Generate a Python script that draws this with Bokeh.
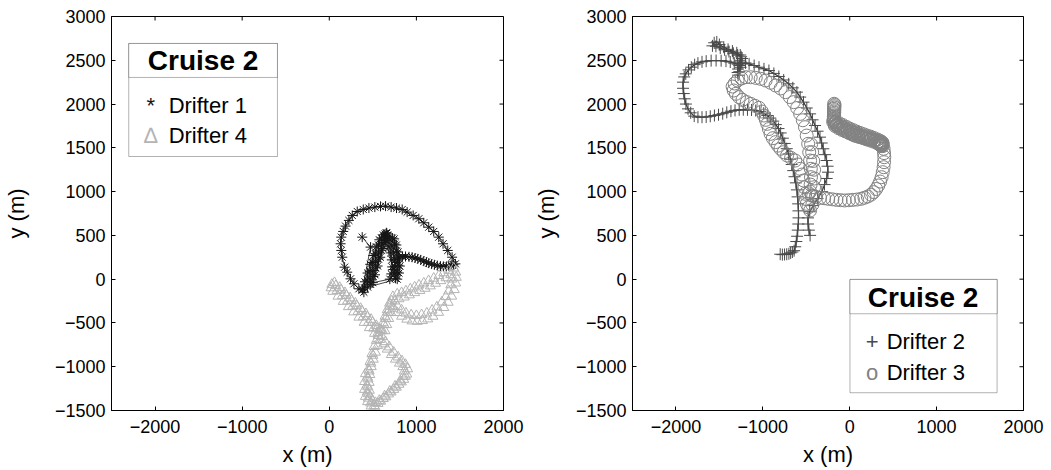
from bokeh.plotting import figure
from bokeh.models import FixedTicker, Label, BoxAnnotation, Range1d
from bokeh.layouts import row
from bokeh.embed import file_html
from bokeh.resources import INLINE

# ---------------- data (metres) ----------------
X_MIN, X_MAX = -2500, 2000
Y_MIN, Y_MAX = -1500, 3000
X_TICKS = [-2000, -1000, 0, 1000, 2000]
X_TICK_LABELS = ["\u22122000", "\u22121000", "0", "1000", "2000"]
Y_TICKS = [-1500, -1000, -500, 0, 500, 1000, 1500, 2000, 2500, 3000]
Y_TICK_LABELS = ["\u22121500", "\u22121000", "\u2212500", "0", "500", "1000", "1500", "2000", "2500", "3000"]

LEGEND_TITLE = "Cruise 2"
NAMES_LEFT = ["Drifter 1", "Drifter 4"]
NAMES_RIGHT = ["Drifter 2", "Drifter 3"]

# Drifter 1 (black asterisks)
D1 = [(378, 480), (474, 366),
      (380, -120), (410, -30), (440, 70), (470, 170), (505, 270), (540, 370), (575, 450), (620, 505),
      (655, 530),
      (745, 460), (770, 390), (790, 310), (805, 230), (810, 150), (800, 70), (780, 0),
      (405, -100), (435, -10), (465, 90), (495, 190), (530, 290), (565, 390), (600, 470), (640, 515),
      (660, 525),
      (725, 470), (750, 400), (770, 320), (785, 240), (790, 160), (780, 80), (760, 10),
      (745, 60), (755, 140), (752, 220), (738, 300), (718, 380), (695, 450), (670, 505),
      (635, 480), (600, 400), (565, 300), (530, 200), (500, 100), (470, 0), (440, -90),
      (475, -60), (505, 30), (535, 130), (565, 230), (600, 330), (630, 420), (655, 490),
      (665, 440), (685, 370), (705, 300), (718, 220), (722, 140), (712, 60), (695, 0),
      (500, -40), (525, 50), (555, 150), (585, 250), (615, 350), (645, 440),
      (735, 110), (765, 190), (798, 250), (840, 258), (875, 259), (915, 255), (951, 251), (985, 242),
      (1016, 232), (1050, 220), (1085, 206), (1115, 195), (1142, 183), (1175, 172), (1207, 164),
      (1240, 155), (1276, 149), (1310, 146), (1345, 145), (1372, 150), (1398, 156), (1425, 165), (1448, 175),
      (1410, 251), (1360, 328), (1306, 404), (1257, 480), (1199, 545), (1142, 594), (1085, 644), (1028, 690),
      (963, 728), (894, 766), (837, 796), (772, 812), (710, 823), (646, 834), (588, 831), (523, 823),
      (455, 812), (390, 796), (321, 773), (264, 728), (225, 671), (187, 606), (160, 545), (138, 480),
      (130, 404), (138, 328), (149, 251), (176, 137), (206, 80), (244, 4), (283, -53), (340, -110), (397, -149)]

# Drifter 4 (light grey triangles)
D4 = [(60, -40), (120, -95), (180, -155), (240, -215), (300, -275), (360, -335), (420, -395), (480, -460),
      (540, -530), (580, -575),
      (560, -640), (540, -700), (515, -770), (490, -850), (468, -940), (450, -1030), (438, -1120), (432, -1210),
      (435, -1290), (448, -1360), (475, -1415), (515, -1445), (560, -1420), (620, -1365), (680, -1312),
      (740, -1260), (800, -1202), (855, -1145), (890, -1085), (900, -1025), (875, -975), (835, -935),
      (790, -890), (740, -835), (690, -775), (645, -715), (605, -655),
      (610, -590), (630, -520), (650, -450), (672, -380), (695, -310), (715, -250), (730, -200),
      (780, -170), (830, -155), (880, -135), (930, -112), (980, -90), (1030, -68), (1085, -45), (1140, -18),
      (1199, 10), (1258, 40), (1314, 72), (1372, 100), (1429, 126),
      (1452, 80), (1458, 20), (1452, -45), (1435, -120), (1405, -195), (1365, -265), (1315, -325), (1255, -380),
      (1190, -425), (1130, -455), (1070, -474), (1010, -483), (950, -478), (890, -458), (830, -424),
      (780, -383), (732, -333), (692, -275),
      (665, -350), (640, -425), (615, -500), (590, -575), (565, -645),
      (520, -620), (460, -555), (400, -495), (340, -435), (280, -375), (220, -315), (160, -255), (100, -195),
      (40, -140), (20, -100),
      (90, -130), (150, -190), (210, -250), (270, -310), (330, -370), (390, -430), (450, -495), (510, -560),
      (560, -610),
      (580, -690), (555, -760), (530, -835), (505, -915), (482, -1000), (466, -1090), (458, -1180),
      (460, -1270), (470, -1340), (495, -1390), (530, -1410), (575, -1385), (635, -1335), (695, -1280),
      (755, -1222), (812, -1165), (850, -1110), (862, -1050), (845, -1000), (805, -960), (760, -915),
      (712, -862), (665, -800), (625, -740),
      (415, -1080), (405, -1170), (405, -1260), (415, -1340), (440, -1400), (480, -1450), (525, -1460),
      (640, -590), (660, -520), (682, -450), (705, -380), (728, -310), (752, -250),
      (800, -225), (860, -205), (920, -180), (980, -155), (1040, -130), (1100, -105), (1160, -78),
      (1220, -48), (1280, -18), (1340, 15), (1395, 50),
      (1405, 0), (1395, -65), (1372, -135), (1338, -200), (1292, -262), (1235, -318),
      (1180, -355), (1120, -388), (1060, -407), (1000, -417), (940, -408), (880, -388), (830, -352), (785, -312),
      (30, -60), (75, -75), (135, -125), (195, -185), (255, -245), (315, -305), (375, -365), (435, -430),
      (495, -495), (545, -560),
      (500, -870), (478, -960), (458, -1050), (445, -1140), (442, -1230), (450, -1310), (590, -1395),
      (650, -1345), (710, -1290), (770, -1235), (828, -1175), (875, -1110)]

# Drifter 2 (dark grey crosses)
D2 = [(-800, 285), (-775, 280), (-750, 282), (-725, 285), (-700, 290), (-680, 300), (-660, 310), (-640, 325),
      (-627, 370), (-615, 430), (-605, 490), (-598, 560), (-592, 630), (-589, 700), (-590, 780), (-594, 860),
      (-600, 940), (-608, 1020), (-620, 1100), (-635, 1170), (-650, 1240), (-668, 1310), (-685, 1370),
      (-705, 1430), (-725, 1490), (-748, 1550), (-770, 1610), (-795, 1670), (-820, 1720), (-850, 1765),
      (-880, 1805), (-915, 1840), (-950, 1870), (-990, 1895), (-1035, 1915), (-1082, 1926), (-1130, 1932),
      (-1177, 1934), (-1225, 1935), (-1272, 1934), (-1320, 1928), (-1367, 1919), (-1415, 1905),
      (-1462, 1890), (-1510, 1878), (-1557, 1869), (-1605, 1860), (-1652, 1852), (-1700, 1850),
      (-1747, 1850), (-1790, 1862), (-1830, 1900), (-1861, 1945), (-1885, 2000), (-1899, 2060),
      (-1910, 2120), (-1918, 2180), (-1918, 2250), (-1905, 2310), (-1887, 2345), (-1855, 2390),
      (-1823, 2421), (-1785, 2450), (-1747, 2467), (-1700, 2482), (-1652, 2490), (-1595, 2496),
      (-1538, 2497), (-1480, 2495), (-1424, 2490), (-1375, 2480), (-1329, 2467), (-1290, 2455),
      (-1260, 2500), (-1250, 2540), (-1290, 2560), (-1340, 2580), (-1390, 2600), (-1440, 2620),
      (-1490, 2640), (-1540, 2660), (-1580, 2665), (-1560, 2700), (-1530, 2710), (-1500, 2680),
      (-1450, 2650), (-1400, 2625), (-1350, 2605), (-1300, 2585), (-1260, 2560), (-1240, 2520),
      (-1250, 2480), (-1270, 2440), (-1285, 2400), (-1290, 2360), (-1285, 2330), (-1270, 2370),
      (-1255, 2420), (-1240, 2460), (-1200, 2470),
      (-1158, 2459), (-1100, 2440), (-1044, 2421), (-987, 2402), (-930, 2383), (-873, 2350), (-816, 2315),
      (-760, 2275), (-702, 2231), (-655, 2185), (-608, 2136), (-570, 2080), (-532, 2022), (-494, 1955),
      (-456, 1888), (-428, 1820), (-399, 1755), (-370, 1690), (-342, 1622), (-323, 1555), (-304, 1489),
      (-285, 1422), (-266, 1355), (-255, 1290), (-250, 1222), (-265, 1150), (-290, 1080), (-320, 1000),
      (-370, 920), (-420, 840), (-460, 770), (-480, 700), (-480, 630), (-470, 560), (-456, 500)]

# Drifter 3 (grey circles)
D3 = [(-179, 2003), (-175, 1990), (-179, 1975), (-176, 1960), (-180, 1945), (-177, 1930), (-180, 1915),
      (-178, 1900), (-182, 1885), (-180, 1870), (-183, 1855), (-181, 1840), (-185, 1825), (-184, 1810),
      (-190, 1795), (-175, 1770), (-153, 1755), (-125, 1738), (-96, 1717), (-60, 1700), (-20, 1679),
      (20, 1660), (56, 1641), (95, 1630), (132, 1622), (170, 1612), (208, 1603), (245, 1594), (284, 1584),
      (320, 1570), (345, 1555), (360, 1546), (370, 1540), (380, 1550), (375, 1530), (365, 1520), (350, 1535),
      (340, 1540), (360, 1560), (370, 1550), (355, 1530), (345, 1555), (365, 1540), (375, 1555),
      (340, 1570), (300, 1590), (260, 1605), (220, 1615), (180, 1630), (140, 1645), (100, 1660), (60, 1675),
      (20, 1695), (-20, 1712), (-60, 1730), (-100, 1750), (-140, 1770), (-170, 1790),
      (-150, 1765), (-110, 1745), (-70, 1722), (-30, 1702), (10, 1685), (50, 1668), (90, 1650), (130, 1635),
      (170, 1620), (210, 1608), (250, 1598), (290, 1585), (330, 1565), (355, 1548), (372, 1535), (380, 1520),
      (-170, 1750), (-130, 1725), (-90, 1705), (-50, 1688), (-10, 1670), (30, 1652), (70, 1638), (110, 1625),
      (150, 1612), (190, 1598), (230, 1585), (270, 1572), (310, 1558), (340, 1540), (365, 1525),
      (-160, 1800), (-120, 1780), (-80, 1760), (-40, 1740), (0, 1720), (40, 1702), (80, 1685), (120, 1670),
      (160, 1655), (200, 1640), (240, 1628), (280, 1612), (320, 1595), (350, 1580), (372, 1565),
      (390, 1489), (395, 1440), (398, 1393), (395, 1336), (390, 1279), (380, 1222), (367, 1165), (350, 1115),
      (329, 1070), (305, 1030), (276, 994), (245, 965), (208, 944), (170, 930), (132, 918), (85, 910),
      (37, 906), (-10, 902), (-58, 899), (-105, 902), (-153, 906), (-200, 912), (-248, 918), (-295, 925),
      (-342, 929), (-390, 940), (-437, 956), (-470, 980),
      (-456, 1000), (-450, 1080), (-446, 1165), (-448, 1260), (-456, 1355), (-466, 1450), (-478, 1546),
      (-495, 1640), (-515, 1736), (-540, 1815), (-570, 1888), (-605, 1955), (-645, 2022), (-690, 2080),
      (-740, 2136), (-795, 2178), (-854, 2212), (-910, 2243), (-968, 2269), (-1025, 2288), (-1082, 2299),
      (-1140, 2306), (-1196, 2307), (-1245, 2292), (-1291, 2269), (-1325, 2235), (-1348, 2200),
      (-1335, 2155), (-1310, 2117), (-1275, 2080), (-1234, 2048), (-1185, 2022), (-1139, 2002),
      (-1090, 1980), (-1044, 1957), (-1012, 1915), (-987, 1869), (-965, 1820), (-949, 1774), (-930, 1715),
      (-911, 1660), (-885, 1610), (-854, 1565), (-825, 1525), (-797, 1489), (-760, 1450), (-721, 1412),
      (-675, 1385), (-627, 1355), (-597, 1310), (-570, 1260), (-550, 1195), (-532, 1127), (-520, 1050),
      (-513, 975), (-503, 915), (-494, 860), (-475, 820), (-456, 784),
      (-430, 850), (-420, 950), (-410, 1050), (-405, 1150), (-410, 1250), (-420, 1350), (-432, 1450),
      (-445, 1540)]

D1_X = [p[0] for p in D1]; D1_Y = [p[1] for p in D1]
D4_X = [p[0] for p in D4]; D4_Y = [p[1] for p in D4]
D2_X = [p[0] for p in D2]; D2_Y = [p[1] for p in D2]
D3_X = [p[0] for p in D3]; D3_Y = [p[1] for p in D3]

# ---------------- styling ----------------
FONT = "Liberation Sans"
C1 = "#151515"
C4 = "#b4b4b4"
C2 = "#4a4a4a"
C3 = "#828282"


def make_fig(width, border_left, border_right, ylabel_standoff):
    p = figure(width=width, frame_height=394,
               x_range=Range1d(X_MIN, X_MAX), y_range=Range1d(Y_MIN, Y_MAX),
               output_backend="svg", toolbar_location=None,
               min_border_left=border_left, min_border_right=border_right,
               min_border_top=16, min_border_bottom=60,
               x_axis_label="x (m)", y_axis_label="y (m)")
    p.xgrid.visible = False
    p.ygrid.visible = False
    p.outline_line_color = "black"
    p.outline_line_width = 1
    p.background_fill_color = "white"
    p.border_fill_color = "white"
    p.xaxis.ticker = FixedTicker(ticks=X_TICKS)
    p.xaxis.major_label_overrides = dict(zip(X_TICKS, X_TICK_LABELS))
    p.yaxis.ticker = FixedTicker(ticks=Y_TICKS)
    p.yaxis.major_label_overrides = dict(zip(Y_TICKS, Y_TICK_LABELS))
    for ax in (p.xaxis[0], p.yaxis[0]):
        ax.major_tick_in = 4
        ax.major_tick_out = 0
        ax.minor_tick_in = 0
        ax.minor_tick_out = 0
        ax.axis_line_color = "black"
        ax.major_tick_line_color = "black"
        ax.major_label_text_font = FONT
        ax.major_label_text_font_size = "18px"
        ax.major_label_text_color = "black"
        ax.axis_label_text_font = FONT
        ax.axis_label_text_font_size = "22px"
        ax.axis_label_text_font_style = "normal"
        ax.axis_label_text_color = "black"
    p.xaxis.major_label_standoff = 9
    p.xaxis.axis_label_standoff = 6
    p.yaxis.major_label_standoff = 6
    p.yaxis.axis_label_standoff = ylabel_standoff
    # mirrored inward ticks on the top and right edges of the box
    p.ray(x=X_TICKS, y=[Y_MAX] * len(X_TICKS), length=4, length_units="screen",
          angle=-90, angle_units="deg", line_color="black", line_width=1)
    p.ray(x=[X_MAX] * len(Y_TICKS), y=Y_TICKS, length=4, length_units="screen",
          angle=180, angle_units="deg", line_color="black", line_width=1)
    return p


def add_legend(p, left, right, top, bottom, sep, title_x, title_y, mark_x, text_x, ys, marks, colors, names):
    p.add_layout(BoxAnnotation(left=left, right=right, top=top, bottom=bottom,
                               fill_color="white", fill_alpha=1, line_color="black", line_width=1))
    p.add_layout(BoxAnnotation(left=left, right=right, top=top, bottom=sep,
                               fill_color="white", fill_alpha=1, line_color="black", line_width=1))
    p.add_layout(Label(x=title_x, y=title_y, text=LEGEND_TITLE, text_font=FONT, text_font_size="28px",
                       text_font_style="bold", text_align="center", text_baseline="middle",
                       text_color="black"))
    for yy, m, c, n in zip(ys, marks, colors, names):
        p.add_layout(Label(x=mark_x, y=yy, text=m, text_font=FONT, text_font_size="22px",
                           text_align="center", text_baseline="middle", text_color=c))
        p.add_layout(Label(x=text_x, y=yy, text=n, text_font=FONT, text_font_size="22px",
                           text_align="left", text_baseline="middle", text_color="black"))


# left panel
p1 = make_fig(530, 109, 27, 23)
p1.line(D1_X, D1_Y, line_color=C1, line_width=0.8)
p1.scatter(D1_X, D1_Y, marker="asterisk", size=10, line_color=C1, line_width=1)
p1.scatter(D4_X, D4_Y, marker="triangle", size=10, fill_color=None, line_color=C4, line_width=1)
add_legend(p1, -2302, -595, 2692, 1401, 2304, -1449, 2492, -2050, -1844, [1984, 1641],
           ["*", "\u2206"], [C1, C4], NAMES_LEFT)

# right panel
p2 = make_fig(521, 99, 28, 14)
p2.line(D2_X, D2_Y, line_color="#333333", line_width=1.2)
p2.scatter(D2_X, D2_Y, marker="cross", size=12, line_color=C2, line_width=1)
p2.scatter(D3_X, D3_Y, marker="circle", size=13, fill_color=None, line_color=C3, line_width=1)
add_legend(p2, 3, 1696, -3, -1297, -395, 844, -206, 257, 425, [-708, -1062],
           ["+", "o"], [C2, C3], NAMES_RIGHT)

layout = row(p1, p2)
open("out.html", "w").write(file_html(layout, INLINE))
